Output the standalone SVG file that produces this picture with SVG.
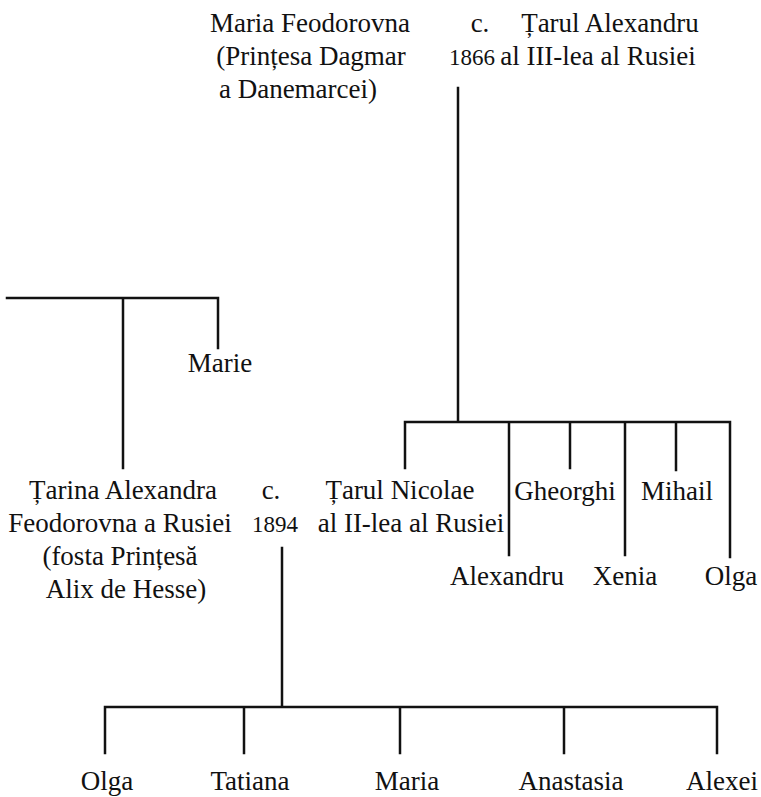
<svg xmlns="http://www.w3.org/2000/svg" width="761" height="797" viewBox="0 0 761 797">
<style>
text{font-family:"Liberation Serif","Times New Roman",serif;font-size:27px;fill:#111;text-anchor:middle}
.num{font-size:23px}
.ln{stroke:#111;stroke-width:2.5;fill:none;stroke-linecap:square}
</style>
<rect width="761" height="797" fill="#fff"/>
<g id="connectors">
<path class="ln" d="M458 88V422M405 422H730M405 422V468M509 422V555M570 422V468M625 422V555M676 422V470M730 422V557"/>
<path class="ln" d="M7 298H218M123 298V468M218 298V348"/>
<path class="ln" d="M282 548V707M105 707H717M105 707V753M244 707V753M400 707V753M564 707V753M717 707V753"/>
</g>
<g id="maria-feodorovna"><text x="310" y="32">Maria Feodorovna</text><text x="311" y="65">(Prințesa Dagmar</text><text x="298" y="98">a Danemarcei)</text></g>
<g id="marriage-1866"><text x="480" y="32">c.</text><text class="num" x="472" y="65">1866</text></g>
<g id="alexandru-iii"><text x="610" y="32">Țarul Alexandru</text><text x="598" y="65">al III-lea al Rusiei</text></g>
<g id="marie"><text x="220" y="372">Marie</text></g>
<g id="alexandra"><text x="123" y="499">Țarina Alexandra</text><text x="120" y="532">Feodorovna a Rusiei</text><text x="120" y="565">(fosta Prințesă</text><text x="126" y="598">Alix de Hesse)</text></g>
<g id="marriage-1894"><text x="271" y="499">c.</text><text class="num" x="275" y="532">1894</text></g>
<g id="nicolae-ii"><text x="400" y="499">Țarul Nicolae</text><text x="411" y="532">al II-lea al Rusiei</text></g>
<g id="gheorghi"><text x="565" y="500">Gheorghi</text></g>
<g id="mihail"><text x="677" y="500">Mihail</text></g>
<g id="alexandru"><text x="507" y="585">Alexandru</text></g>
<g id="xenia"><text x="625" y="585">Xenia</text></g>
<g id="olga-1"><text x="731" y="585">Olga</text></g>
<g id="olga-2"><text x="107" y="790">Olga</text></g>
<g id="tatiana"><text x="250" y="790">Tatiana</text></g>
<g id="maria"><text x="407" y="790">Maria</text></g>
<g id="anastasia"><text x="571" y="790">Anastasia</text></g>
<g id="alexei"><text x="722" y="790">Alexei</text></g>
</svg>
